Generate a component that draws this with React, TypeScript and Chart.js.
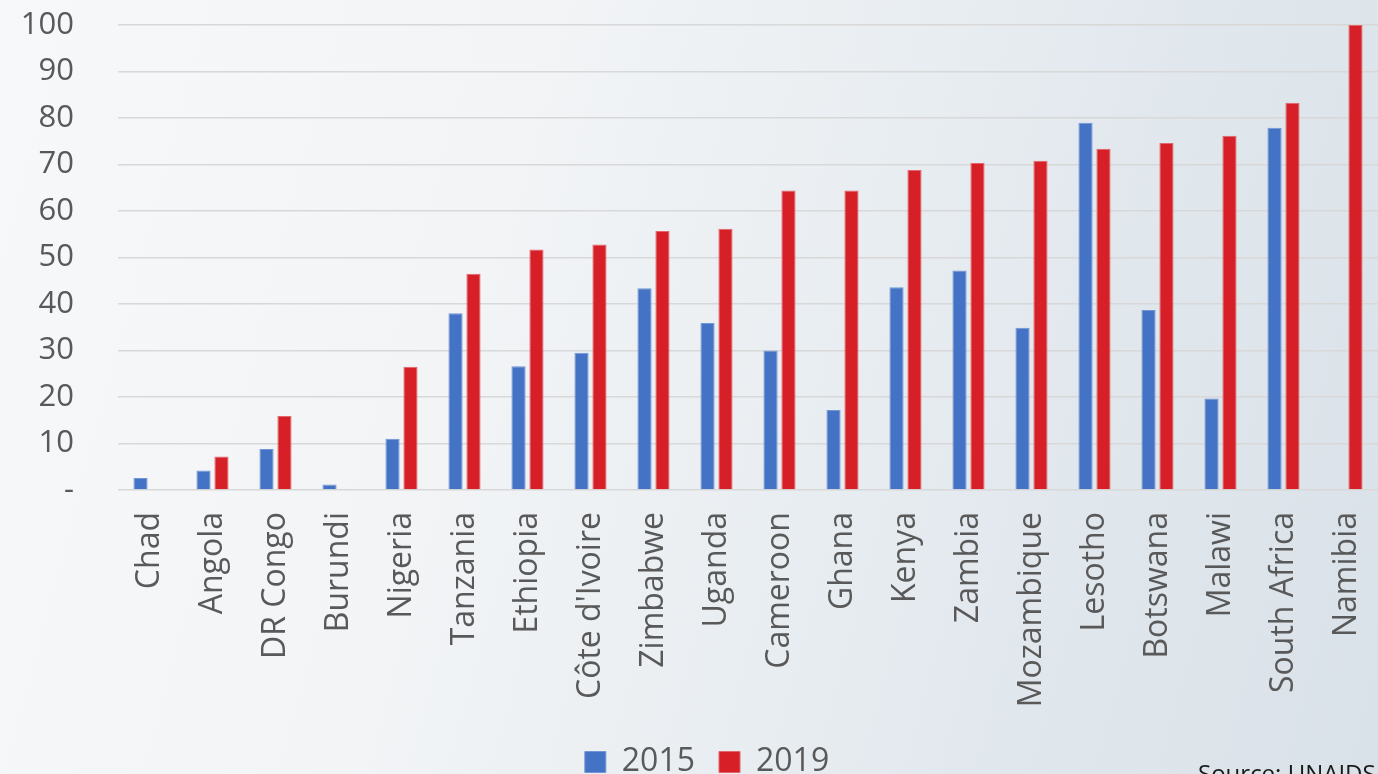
import React, { useEffect, useRef } from "react";
import { Chart, registerables } from "chart.js";

Chart.register(...registerables);

const categories = [
  "Chad", "Angola", "DR Congo", "Burundi", "Nigeria", "Tanzania", "Ethiopia",
  "Côte d'Ivoire", "Zimbabwe", "Uganda", "Cameroon", "Ghana", "Kenya", "Zambia",
  "Mozambique", "Lesotho", "Botswana", "Malawi", "South Africa", "Namibia",
];
const values2015: (number | null)[] = [
  2.6, 4.2, 8.8, 1.2, 11.0, 38.0, 26.6, 29.5, 43.4, 35.9,
  30.0, 17.2, 43.6, 47.2, 34.9, 79.0, 38.7, 19.7, 77.9, null,
];
const values2019: (number | null)[] = [
  null, 7.2, 15.9, null, 26.5, 46.5, 51.7, 52.8, 55.7, 56.2,
  64.4, 64.4, 68.8, 70.3, 70.8, 73.4, 74.6, 76.2, 83.3, 100,
];
const seriesLabels = ["2015", "2019"];
const sourceText = "Source: UNAIDS";

const W = 1378;
const H = 788;

const legendShift = {
  id: "legendShift",
  afterLayout(chart: any) {
    const l = chart.legend;
    if (l) {
      l.left += 18;
      l.right += 18;
    }
  },
};

export default function App() {
  const ref = useRef<HTMLCanvasElement | null>(null);

  useEffect(() => {
    document.body.style.margin = "0";
    document.body.style.overflow = "hidden";
    const canvas = ref.current;
    if (!canvas) return;
    const chart = new Chart(canvas, {
      type: "bar",
      plugins: [legendShift],
      data: {
        labels: categories,
        datasets: [
          {
            label: seriesLabels[0],
            data: values2015,
            backgroundColor: "#4472C4",
            borderColor: "#7096d6",
            borderWidth: 1,
            categoryPercentage: 0.57,
            barPercentage: 0.79,
          },
          {
            label: seriesLabels[1],
            data: values2019,
            backgroundColor: "#D61F26",
            borderColor: "#e2666b",
            borderWidth: 1,
            categoryPercentage: 0.57,
            barPercentage: 0.79,
          },
        ],
      },
      options: {
        responsive: false,
        animation: false,
        layout: { padding: { top: 25, left: 0, right: 0, bottom: 0 } },
        plugins: {
          legend: {
            position: "bottom",
            labels: {
              boxWidth: 21,
              boxHeight: 21,
              padding: 24,
              color: "#595959",
              font: { family: "'Open Sans'", size: 32 },
            },
          },
          tooltip: { enabled: false },
        },
        scales: {
          x: {
            grid: { display: false, drawTicks: false },
            border: { display: false },
            ticks: {
              color: "#595959",
              font: { family: "'Open Sans'", size: 32 },
              minRotation: 90,
              maxRotation: 90,
              padding: 22,
              autoSkip: false,
            },
            afterFit: (scale: any) => {
              scale.height = 232;
              scale.paddingLeft = 0;
              scale.paddingRight = 0;
            },
          },
          y: {
            min: 0,
            max: 100,
            grid: { color: "#d8d8d8", lineWidth: 1.5, drawTicks: false },
            border: { display: false },
            ticks: {
              stepSize: 10,
              color: "#595959",
              font: { family: "'Open Sans'", size: 31 },
              padding: 44,
              callback: (v: any) => (v === 0 ? "-" : String(v)),
            },
            afterFit: (scale: any) => {
              scale.width = 118;
              scale.paddingTop = 19;
              scale.paddingBottom = 19;
            },
          },
        },
      },
    });
    return () => chart.destroy();
  }, []);

  return (
    <div
      style={{
        position: "fixed",
        left: 0,
        top: 0,
        width: W,
        height: 774,
        overflow: "hidden",
        background:
          "linear-gradient(105deg, #f7f8fa 0%, #f2f4f6 35%, #e8edf1 60%, #dfe6ec 80%, #dae2e9 100%)",
      }}
    >
      <canvas ref={ref} width={W} height={H} style={{ width: W, height: H, display: "block" }} />
      <div
        style={{
          position: "absolute",
          left: 1198,
          top: 756,
          fontFamily: "'Open Sans'",
          fontSize: 24,
          color: "#1a1a1a",
          whiteSpace: "nowrap",
        }}
      >
        {sourceText}
      </div>
    </div>
  );
}
